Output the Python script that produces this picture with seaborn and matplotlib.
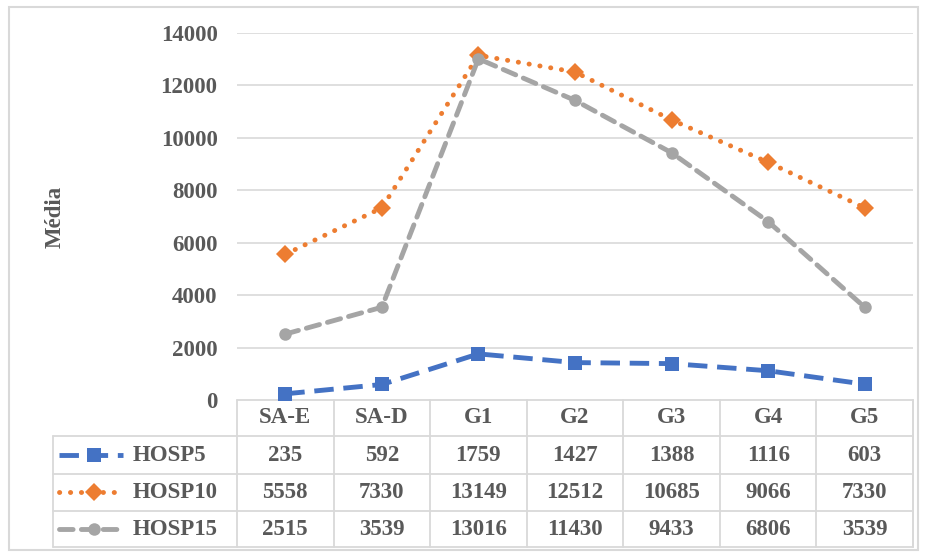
import numpy as np
import pandas as pd
import seaborn as sns
import matplotlib.pyplot as plt
from matplotlib.patches import Rectangle
from matplotlib.transforms import blended_transform_factory

categories = ["SA-E", "SA-D", "G1", "G2", "G3", "G4", "G5"]
series_names = ["HOSP5", "HOSP10", "HOSP15"]
hosp5 = [235, 592, 1759, 1427, 1388, 1116, 603]
hosp10 = [5558, 7330, 13149, 12512, 10685, 9066, 7330]
hosp15 = [2515, 3539, 13016, 11430, 9433, 6806, 3539]
yticks = [0, 2000, 4000, 6000, 8000, 10000, 12000, 14000]

sns.set_style("white")
plt.rcParams["font.family"] = ["Liberation Serif", "DejaVu Serif"]

fs = 16.5
tc = "#595959"
colors = {"HOSP5": "#4472C4", "HOSP10": "#ED7D31", "HOSP15": "#A5A5A5"}
markers = {"HOSP5": "s", "HOSP10": "D", "HOSP15": "o"}
msizes = {"HOSP5": 9.5, "HOSP10": 9.5, "HOSP15": 9}
dashes = {"HOSP5": (4, 2), "HOSP10": (0.05, 2.2), "HOSP15": (2.8, 1.7)}
caps = {"HOSP5": "butt", "HOSP10": "round", "HOSP15": "round"}
values = {"HOSP5": hosp5, "HOSP10": hosp10, "HOSP15": hosp15}

fig = plt.figure(figsize=(9.25, 5.57), dpi=100)
fig.patches.append(Rectangle((9 / 925, 1 - 550 / 557), 909 / 925, 543 / 557,
                             transform=fig.transFigure, fill=False,
                             edgecolor="#D9D9D9", lw=1.5))
ax = fig.add_axes([237 / 925, 1 - 400 / 557, 676 / 925, 367 / 557])

lw = 3.5
for name in series_names:
    df = pd.DataFrame({"cat": categories, "val": values[name]})
    sns.lineplot(data=df, x="cat", y="val", ax=ax, sort=False, color=colors[name],
                 lw=lw, marker=markers[name], markersize=msizes[name],
                 markeredgewidth=0, zorder=3, clip_on=False)
    line = ax.lines[-1]
    line.set_dashes(dashes[name])
    line.set_dash_capstyle(caps[name])

ax.set_xlim(-0.5, 6.5)
ax.set_ylim(0, 14000)
ax.set_yticks(yticks)
ax.set_yticklabels([str(v) for v in yticks], fontsize=fs, fontweight="bold", color=tc)
ax.tick_params(axis="y", length=0, pad=14)
ax.set_xticks([])
ax.set_xlabel("")
ax.set_ylabel("Média", fontsize=fs, fontweight="bold", color=tc)
ax.yaxis.set_label_coords(-0.253, 0.5)
for s in ax.spines.values():
    s.set_visible(False)
for v in yticks[1:]:
    ax.axhline(v, color="#D9D9D9", lw=1.2, zorder=0)

# data table under the axis
grid_c = "#D9D9D9"
bt = blended_transform_factory(ax.transData, ax.transAxes)
row_lines = [0, -0.0981, -0.2016, -0.3025, -0.4005]
row_centers = [-0.150, -0.252, -0.3515]
left = -0.2722
kw = dict(color=grid_c, lw=1.3, clip_on=False, transform=ax.transAxes)
ax.plot([0, 1], [0, 0], **kw)
for y in row_lines[1:]:
    ax.plot([left, 1], [y, y], **kw)
ax.plot([left, left], [row_lines[1], row_lines[-1]], **kw)
ax.plot([1, 1], [0, row_lines[-1]], **kw)
for b in np.arange(-0.5, len(categories) - 0.4, 1.0):
    ax.plot([b, b], [0, row_lines[-1]], color=grid_c, lw=1.3, clip_on=False, transform=bt)

tkw = dict(va="center", fontsize=fs, fontweight="bold", color=tc)
for i, c in enumerate(categories):
    ax.text(i, -0.049, c, transform=bt, ha="center", **tkw)
for name, yc in zip(series_names, row_centers):
    for i, v in enumerate(values[name]):
        ax.text(i, yc, str(v), transform=bt, ha="center", **tkw)
    ax.text(-0.155, yc, name, transform=ax.transAxes, ha="left", **tkw)
    sample = ax.plot([-0.264, -0.168], [yc, yc], transform=ax.transAxes, clip_on=False,
                     color=colors[name], lw=lw)[0]
    sample.set_dashes(dashes[name])
    sample.set_dash_capstyle(caps[name])
    ax.plot([-0.2115], [yc], transform=ax.transAxes, clip_on=False, color=colors[name],
            marker=markers[name], markersize=msizes[name], markeredgewidth=0, lw=0)

plt.savefig("out.png", dpi=100)
